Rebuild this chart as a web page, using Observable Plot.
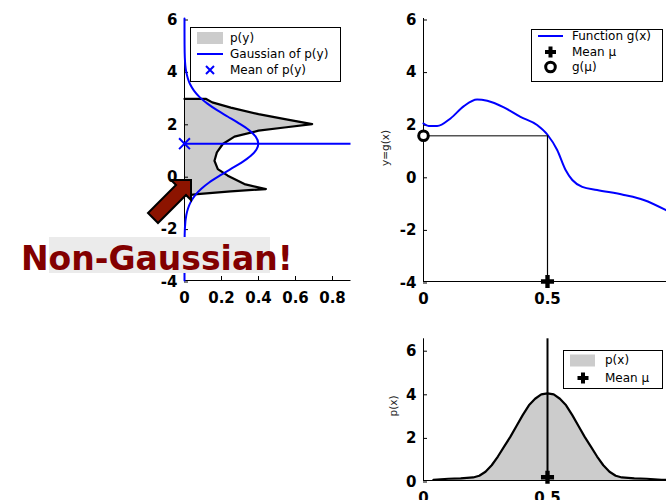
<!DOCTYPE html>
<html><head><meta charset="utf-8">
<script src="https://cdn.jsdelivr.net/npm/d3@7"></script>
<script src="https://cdn.jsdelivr.net/npm/@observablehq/plot@0.6"></script>
<style>
body{margin:0;background:#fff;}
#wrap{position:relative;width:666px;height:500px;overflow:hidden;background:#fff;}
.panel{position:absolute;}
.panel svg{max-width:none !important;}
#overlay{position:absolute;left:0;top:0;}
</style>
</head><body>
<div id="wrap">
  <div class="panel" id="p1" style="left:130px;top:0px;width:231px"></div>
  <div class="panel" id="p2" style="left:370px;top:0px;width:310px"></div>
  <div class="panel" id="p3" style="left:370px;top:320px;width:310px"></div>
</div>
<script>
// ---- Panel 1: transformed density p(y) (value along x, y along y) ----
const pyY = [2.93, 2.93, 2.8, 2.6, 2.35, 2.15, 1.97, 1.84, 1.72, 1.49, 1.21, 0.89, 0.57, 0.25, 0.0, -0.32, -0.51, -0.6, -0.70, -0.76];
const pyV = [0, 0.117, 0.15, 0.25, 0.40, 0.55, 0.69, 0.54, 0.40, 0.27, 0.207, 0.175, 0.162, 0.18, 0.234, 0.324, 0.44, 0.25, 0.069, 0];
// Gaussian fit of p(y)
const gaussY = [6, 5.5, 5, 4.5, 4, 3.5, 3.25, 3, 2.75, 2.5, 2.25, 2, 1.75, 1.5, 1.22, 1, 0.75, 0.5, 0.25, 0, -0.25, -0.5, -0.75, -1, -1.25, -1.5, -2, -2.5, -3, -3.5, -4];
const gaussV = [0, 0.00004, 0.0003, 0.0018, 0.0084, 0.0296, 0.051, 0.0818, 0.124, 0.176, 0.235, 0.294, 0.347, 0.384, 0.399, 0.389, 0.357, 0.308, 0.249, 0.190, 0.135, 0.091, 0.057, 0.034, 0.019, 0.0099, 0.0022, 0.0004, 0.0001, 0, 0];
const meanPy = 1.22;
const p1XTicks = [0, 0.2, 0.4, 0.6, 0.8];
const p1YTicks = [-4, -2, 0, 2, 4, 6];

// ---- Panel 2: function g(x) ----
const gX = [0, 0.021, 0.055, 0.109, 0.163, 0.216, 0.257, 0.324, 0.391, 0.458, 0.5, 0.539, 0.573, 0.6, 0.64, 0.70, 0.808, 0.888, 0.976, 1.0];
const gY = [2.01, 1.91, 1.91, 2.20, 2.67, 2.92, 2.87, 2.62, 2.26, 1.95, 1.58, 1.0, 0.24, -0.14, -0.40, -0.52, -0.71, -0.90, -1.28, -1.40];
const muX = 0.5;
const gMu = 1.54;
const p2XTicks = [0, 0.5];
const p2YTicks = [-4, -2, 0, 2, 4, 6];

// ---- Panel 3: density p(x) ----
const pxX = [0.04, 0.1, 0.15, 0.2, 0.225, 0.25, 0.275, 0.3, 0.325, 0.35, 0.375, 0.4, 0.425, 0.45, 0.475, 0.5, 0.525, 0.55, 0.575, 0.6, 0.625, 0.65, 0.675, 0.7, 0.725, 0.75, 0.775, 0.8, 0.85, 0.9, 0.96, 1.0];
const pxV = [0.03, 0.08, 0.1, 0.14, 0.22, 0.4, 0.7, 1.1, 1.55, 2.0, 2.5, 3.0, 3.45, 3.75, 3.95, 4.0, 3.95, 3.75, 3.45, 3.0, 2.5, 2.0, 1.55, 1.1, 0.7, 0.4, 0.22, 0.14, 0.1, 0.08, 0.03, 0.02];
const meanMarkY = 0.15;
const p3XTicks = [0, 0.5];
const p3YTicks = [0, 2, 4, 6];

const pyData = pyY.map((y, i) => ({y, v: pyV[i]}));
const gaussData = gaussY.map((y, i) => ({y, v: gaussV[i]}));
const gData = gX.map((x, i) => ({x, y: gY[i]}));
const pxData = pxX.map((x, i) => ({x, y: pxV[i]}));

const fmt = d => String(d);
const style = {fontFamily: "DejaVu Sans", fontWeight: "bold", fontSize: "15px", color: "black", background: "transparent", overflow: "visible", maxWidth: "none"};
const axX = (ticks) => Plot.axisX({ticks, tickFormat: fmt, tickSize: -4, tickPadding: 16, label: null, stroke: "black"});
const axY = (ticks) => Plot.axisY({ticks, tickFormat: fmt, tickSize: -4, tickPadding: 11, dy: 1.5, label: null, stroke: "black"});

const p1 = Plot.plot({
  width: 231, height: 310, marginLeft: 54, marginRight: 10.5, marginTop: 18, marginBottom: 30,
  style,
  x: {domain: [0, 0.9]},
  y: {domain: [-4, 6]},
  marks: [
    Plot.areaX(pyData, {y: "y", x: "v", fill: "#cccccc"}),
    Plot.line(pyData, {x: "v", y: "y", stroke: "black", strokeWidth: 2.2}),
    Plot.ruleY([-4], {stroke: "black"}),
    Plot.ruleX([0], {stroke: "black"}),
    axX(p1XTicks), axY(p1YTicks),
    Plot.line(gaussData, {x: "v", y: "y", stroke: "blue", strokeWidth: 2, curve: "monotone-y"}),
    Plot.ruleY([meanPy], {stroke: "blue", strokeWidth: 2}),
    Plot.dot([{x: 0, y: meanPy}], {x: "x", y: "y", symbol: "times", r: 5, stroke: "blue", strokeWidth: 2})
  ]
});
document.getElementById("p1").append(p1);

const p2 = Plot.plot({
  width: 310, height: 310, marginLeft: 53, marginRight: 9, marginTop: 18, marginBottom: 29,
  style,
  x: {domain: [0, 1]},
  y: {domain: [-4, 6]},
  marks: [
    Plot.ruleY([-4], {stroke: "black"}),
    Plot.ruleX([0], {stroke: "black"}),
    axX(p2XTicks), axY(p2YTicks),
    Plot.line(gData, {x: "x", y: "y", stroke: "blue", strokeWidth: 2, curve: "monotone-x"}),
    Plot.ruleY([gMu], {x1: 0, x2: muX, stroke: "#555", strokeWidth: 1.5}),
    Plot.ruleX([muX], {y1: -4, y2: gMu, stroke: "black", strokeWidth: 1.2}),
    Plot.dot([{x: 0, y: gMu}], {x: "x", y: "y", r: 4.8, stroke: "black", strokeWidth: 3, fill: "white"}),
    Plot.dot([{x: muX, y: -4}], {x: "x", y: "y", symbol: "cross", r: 5.5, fill: "black"})
  ]
});
document.getElementById("p2").append(p2);

const p3 = Plot.plot({
  width: 310, height: 180, marginLeft: 53, marginRight: 9, marginTop: 18.3, marginBottom: 20,
  style,
  x: {domain: [0, 1]},
  y: {domain: [0, 6.5]},
  marks: [
    Plot.areaY(pxData, {x: "x", y: "y", fill: "#cccccc"}),
    Plot.line(pxData, {x: "x", y: "y", stroke: "black", strokeWidth: 2.2}),
    Plot.ruleY([0], {stroke: "black"}),
    Plot.ruleX([0], {stroke: "black"}),
    axX(p3XTicks), axY(p3YTicks),
    Plot.ruleX([muX], {stroke: "black", strokeWidth: 2}),
    Plot.dot([{x: muX, y: meanMarkY}], {x: "x", y: "y", symbol: "cross", r: 5.5, fill: "black"})
  ]
});
document.getElementById("p3").append(p3);

// ---- overlay: legends, labels, annotation ----
const F = 'font-family="DejaVu Sans" font-size="12"';
const ov = `
<svg id="overlay" width="666" height="500" xmlns="http://www.w3.org/2000/svg">
  <!-- legend panel 1 -->
  <rect x="190.5" y="27.5" width="150" height="54" fill="white" stroke="black"/>
  <rect x="197" y="32" width="26" height="12" fill="#cccccc"/>
  <text x="230" y="38" dy="0.35em" ${F}>p(y)</text>
  <line x1="197" x2="223" y1="54" y2="54" stroke="blue" stroke-width="2"/>
  <text x="230" y="54" dy="0.35em" ${F}>Gaussian of p(y)</text>
  <path d="M206,66L214,74M214,66L206,74" stroke="blue" stroke-width="2"/>
  <text x="230" y="70" dy="0.35em" ${F}>Mean of p(y)</text>
  <!-- legend panel 2 -->
  <rect x="531.5" y="29.5" width="131" height="52" fill="white" stroke="black"/>
  <line x1="538" x2="563" y1="36" y2="36" stroke="blue" stroke-width="2"/>
  <text x="572" y="36" dy="0.35em" ${F}>Function g(x)</text>
  <path d="M545,52h11M550.5,46.5v11" stroke="black" stroke-width="4"/>
  <text x="572" y="52" dy="0.35em" ${F}>Mean μ</text>
  <circle cx="550.5" cy="67" r="4.8" fill="white" stroke="black" stroke-width="3"/>
  <text x="572" y="67" dy="0.35em" ${F}>g(μ)</text>
  <!-- legend panel 3 -->
  <rect x="563.5" y="350.5" width="99" height="38" fill="white" stroke="black"/>
  <rect x="570" y="354.5" width="25" height="12" fill="#cccccc"/>
  <text x="605" y="360" dy="0.35em" ${F}>p(x)</text>
  <path d="M577.5,378h11M583,372.5v11" stroke="black" stroke-width="4"/>
  <text x="605" y="378" dy="0.35em" ${F}>Mean μ</text>
  <!-- axis labels -->
  <text transform="translate(389,148) rotate(-90)" text-anchor="middle" font-family="DejaVu Sans" font-size="10.5" fill="#222">y=g(x)</text>
  <text transform="translate(397,406) rotate(-90)" text-anchor="middle" font-family="DejaVu Sans" font-size="10.5" fill="#222">p(x)</text>
  <!-- annotation -->
  <polygon points="191,180 171,180 176,185 148,213 158,223 186,195 191,200" fill="#8c1400" stroke="black" stroke-width="2" stroke-linejoin="miter"/>
  <rect x="49" y="237" width="221" height="36" fill="#ebebeb"/>
  <text x="21" y="270" font-family="DejaVu Sans" font-weight="bold" font-size="33" fill="#820000">Non-Gaussian!</text>
</svg>`;
document.getElementById("wrap").insertAdjacentHTML("beforeend", ov);
</script>
</body></html>
